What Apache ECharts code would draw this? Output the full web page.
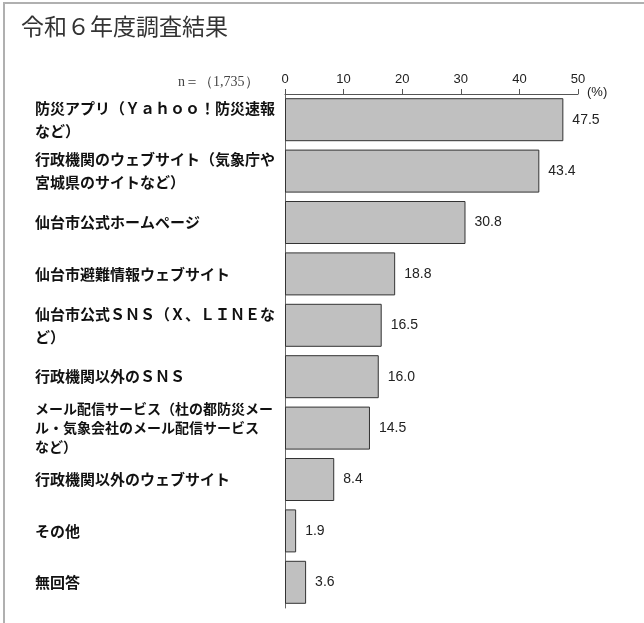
<!DOCTYPE html>
<html>
<head>
<meta charset="utf-8">
<script src="https://cdn.jsdelivr.net/npm/echarts@6/dist/echarts.min.js"></script>
<style>
  html, body { margin: 0; padding: 0; background: #fff; }
  #chart { width: 644px; height: 623px; }
</style>
</head>
<body>
<div id="chart"></div>
<script>
// Survey: information sources used (multiple answers, %)
const titleText = '令和６年度調査結果';
const sampleNote = 'n＝（1,735）';
const unitLabel = '(%)';
const categories = [
  '防災アプリ（Ｙａｈｏｏ！防災速報\nなど）',
  '行政機関のウェブサイト（気象庁や\n宮城県のサイトなど）',
  '仙台市公式ホームページ',
  '仙台市避難情報ウェブサイト',
  '仙台市公式ＳＮＳ（Ｘ、ＬＩＮＥな\nど）',
  '行政機関以外のＳＮＳ',
  'メール配信サービス（杜の都防災メー\nル・気象会社のメール配信サービス\nなど）',
  '行政機関以外のウェブサイト',
  'その他',
  '無回答'
];
const values = [47.5, 43.4, 30.8, 18.8, 16.5, 16.0, 14.5, 8.4, 1.9, 3.6];
const axisMin = 0;
const axisMax = 50;
const axisStep = 10;

const chart = echarts.init(document.getElementById('chart'), null, { renderer: 'canvas' });
const cjk = '"Noto Sans CJK JP", "Noto Sans", sans-serif';

chart.setOption({
  backgroundColor: '#ffffff',
  animation: false,
  grid: { left: 285, right: 66, top: 94, bottom: 15, containLabel: false },
  xAxis: {
    type: 'value',
    position: 'top',
    min: axisMin,
    max: axisMax,
    interval: axisStep,
    axisLine: { show: true, lineStyle: { color: '#555', width: 1 } },
    axisTick: { show: true, length: 5, lineStyle: { color: '#555' } },
    splitLine: { show: false },
    axisLabel: { margin: 8, color: '#222', fontSize: 13, fontFamily: 'Arial, "Liberation Sans", sans-serif' }
  },
  yAxis: {
    type: 'category',
    inverse: true,
    data: categories,
    axisLine: { show: true, lineStyle: { color: '#666', width: 1 } },
    axisTick: { show: false },
    axisLabel: {
      align: 'left',
      margin: 250,
      color: '#111',
      fontFamily: cjk,
      fontWeight: 'bold',
      fontSize: 15,
      lineHeight: 23,
      formatter: function (v) {
        // the long mail-service label is set a size smaller
        if (v.indexOf('メール配信') === 0) return '{s|' + v.split('\n').join('}\n{s|') + '}';
        return v;
      },
      rich: {
        s: { fontFamily: cjk, fontWeight: 'bold', fontSize: 14, lineHeight: 19, color: '#111' }
      }
    }
  },
  series: [{
    type: 'bar',
    data: values,
    barWidth: 43,
    itemStyle: { color: '#c0c0c0', borderColor: '#333', borderWidth: 1 },
    label: {
      show: true,
      position: 'right',
      distance: 9,
      color: '#222',
      fontSize: 14,
      fontFamily: 'Arial, "Liberation Sans", sans-serif',
      formatter: function (p) { return p.value.toFixed(1); }
    }
  }],
  graphic: [
    {
      type: 'rect', z: -10, silent: true,
      shape: { x: 4, y: 3, width: 700, height: 700 },
      style: { fill: 'none', stroke: '#b0b0b0', lineWidth: 2 }
    },
    {
      type: 'text', left: 21, top: 15,
      style: { text: titleText, fontSize: 23, fontFamily: cjk, fill: '#333' }
    },
    {
      type: 'text', x: 178, y: 82,
      style: { text: sampleNote, fontSize: 14, fontFamily: '"Liberation Serif", "DejaVu Serif", serif', fill: '#444', verticalAlign: 'middle' }
    },
    {
      type: 'text', x: 587, y: 92,
      style: { text: unitLabel, fontSize: 13, fontFamily: 'Arial, "Liberation Sans", sans-serif', fill: '#222', verticalAlign: 'middle' }
    }
  ]
});
</script>
</body>
</html>
